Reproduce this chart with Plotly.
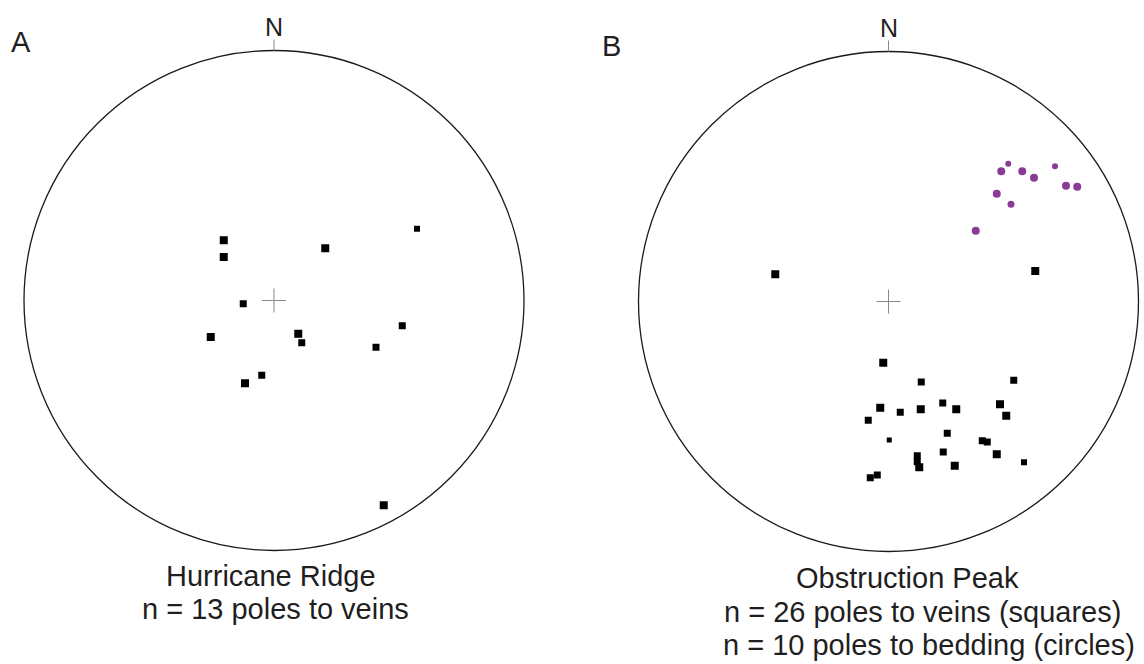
import plotly.graph_objects as go

# Projected coordinates (east, north) in units of the primitive-circle radius
# A: Hurricane Ridge, poles to veins
hr_vein_e = [-0.201, -0.201, 0.205, 0.572, -0.123, -0.253, 0.097, 0.111, 0.513, 0.408, -0.049, -0.116, 0.439]
hr_vein_n = [0.241, 0.174, 0.209, 0.287, -0.013, -0.146, -0.133, -0.169, -0.101, -0.187, -0.299, -0.331, -0.819]
hr_vein_size = [8, 8, 8, 6, 7, 8, 8, 7, 7, 7, 7, 8, 8]

# B: Obstruction Peak, poles to veins
op_vein_e = [-0.453, 0.587, -0.021, 0.131, 0.501, -0.033, 0.047, 0.129, 0.217, 0.271, 0.446, 0.471, -0.081,
             0.235, 0.003, 0.375, 0.395, 0.219, 0.433, 0.542, 0.115, 0.115, 0.123, 0.265, -0.045, -0.073]
op_vein_n = [0.109, 0.122, -0.245, -0.322, -0.315, -0.425, -0.443, -0.431, -0.406, -0.431, -0.411, -0.457, -0.475,
             -0.527, -0.554, -0.557, -0.562, -0.602, -0.611, -0.643, -0.617, -0.641, -0.663, -0.657, -0.694, -0.705]
op_vein_size = [8, 8, 8, 7, 7, 8, 7, 8, 7, 8, 8, 8, 7,
                7, 5, 7, 7, 7, 8, 6, 7, 7, 8, 8, 7, 7]

# B: Obstruction Peak, poles to bedding
op_bed_e = [0.479, 0.451, 0.535, 0.582, 0.666, 0.710, 0.755, 0.433, 0.490, 0.349]
op_bed_n = [0.551, 0.521, 0.521, 0.495, 0.541, 0.463, 0.459, 0.431, 0.389, 0.283]
op_bed_size = [6, 8, 8, 8, 6, 8, 8, 8, 7, 8]

titles_A = ["Hurricane Ridge", "n = 13 poles to veins"]
titles_B = ["Obstruction Peak", "n = 26 poles to veins (squares)", "n = 10 poles to bedding (circles)"]

FONT = "Liberation Sans, Arial, sans-serif"
TXT = "#1f1f1f"
W, H = 1144, 664

fig = go.Figure()
fig.add_trace(go.Scatter(x=hr_vein_e, y=hr_vein_n, mode="markers", xaxis="x", yaxis="y",
                         marker=dict(symbol="square", size=hr_vein_size, color="black", opacity=1,
                                     line=dict(width=0))))
fig.add_trace(go.Scatter(x=op_vein_e, y=op_vein_n, mode="markers", xaxis="x2", yaxis="y2",
                         marker=dict(symbol="square", size=op_vein_size, color="black", opacity=1,
                                     line=dict(width=0))))
fig.add_trace(go.Scatter(x=op_bed_e, y=op_bed_n, mode="markers", xaxis="x2", yaxis="y2",
                         marker=dict(symbol="circle", size=op_bed_size, color="#8b3a96", opacity=1,
                                     line=dict(width=0))))

shapes = []
for xr, yr in (("x", "y"), ("x2", "y2")):
    shapes.append(dict(type="circle", xref=xr, yref=yr, x0=-1, x1=1, y0=-1, y1=1,
                       line=dict(color="#1a1a1a", width=1.3)))
    shapes.append(dict(type="line", xref=xr, yref=yr, x0=-0.048, x1=0.048, y0=0, y1=0,
                       line=dict(color="#888888", width=1)))
    shapes.append(dict(type="line", xref=xr, yref=yr, x0=0, x1=0, y0=-0.048, y1=0.048,
                       line=dict(color="#888888", width=1)))
    shapes.append(dict(type="line", xref=xr, yref=yr, x0=0, x1=0, y0=1, y1=1.044,
                       line=dict(color="#888888", width=1)))

def ann(text, px, py, size=29, xanchor="center"):
    return dict(text=text, x=px / W, y=1 - py / H, xref="paper", yref="paper",
                xanchor=xanchor, yanchor="middle", showarrow=False,
                font=dict(family=FONT, size=size, color=TXT))

annotations = [
    ann("N", 274, 27, 25), ann("N", 888.5, 28, 25),
    ann("A", 9, 42, 29, "left"), ann("B", 600, 46, 29, "left"),
    ann(titles_A[0], 271, 576), ann(titles_A[1], 275, 609),
    ann(titles_B[0], 907, 578), ann(titles_B[1], 923, 612), ann(titles_B[2], 929, 645),
]

R = 250.0
cA = (274.0, 300.5)
cB = (888.5, 301.5)
ax_common = dict(visible=False, showgrid=False, zeroline=False, fixedrange=True)
fig.update_layout(
    width=W, height=H, margin=dict(l=0, r=0, t=0, b=0),
    paper_bgcolor="white", plot_bgcolor="rgba(0,0,0,0)", showlegend=False,
    xaxis=dict(domain=[0, 0.5], range=[(0 - cA[0]) / R, (572 - cA[0]) / R], **ax_common),
    yaxis=dict(domain=[0, 1], range=[-(H - cA[1]) / R, cA[1] / R], **ax_common),
    xaxis2=dict(domain=[0.5, 1], range=[(572 - cB[0]) / R, (W - cB[0]) / R], **ax_common),
    yaxis2=dict(domain=[0, 1], range=[-(H - cB[1]) / R, cB[1] / R], **ax_common),
    shapes=shapes, annotations=annotations,
)
fig.write_html("out.html")
